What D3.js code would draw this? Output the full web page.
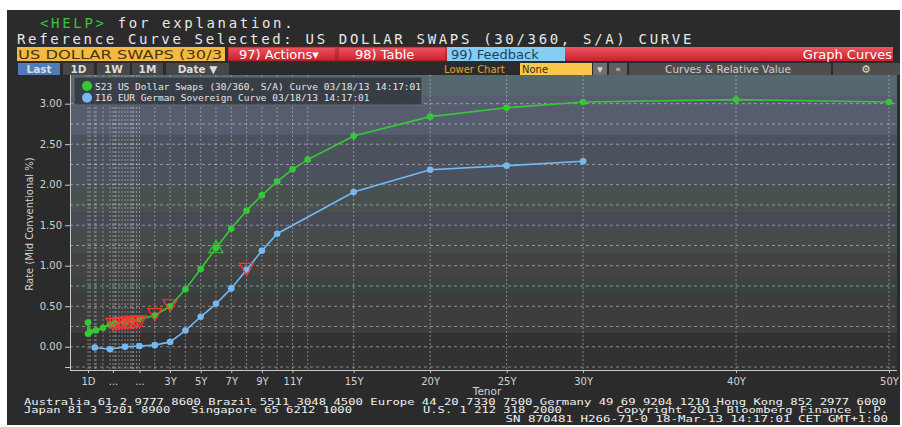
<!DOCTYPE html>
<html>
<head>
<meta charset="utf-8">
<script src="https://cdn.jsdelivr.net/npm/d3@7"></script>
<style>
  body { margin: 0; background: #fff; }
  text { font-family: "DejaVu Sans", sans-serif; }
  .mono { font-family: "DejaVu Sans Mono", monospace; }
  .axis path, .axis line { stroke: #c8c8c8; }
  .axis text { fill: #d2d2d2; font-size: 10px; font-family: "DejaVu Sans", sans-serif; }
</style>
</head>
<body>
<div id="chart"></div>
<script>
var w = 902;
var h = 427;

// tenors in years
var greenTenors = [1/360, 1/360, 7/360, 1/12, 1/6, 1/4, 1/3, 1/2, 3/4, 1, 2, 3, 4, 5, 6, 7, 8, 9, 10, 11, 12, 15, 20, 25, 30, 40, 50];
var greenRates  = [0.30, 0.16, 0.185, 0.20, 0.235, 0.275, 0.29, 0.305, 0.32, 0.34, 0.385, 0.50, 0.71, 0.96, 1.22, 1.46, 1.68, 1.87, 2.04, 2.19, 2.31, 2.60, 2.84, 2.95, 3.02, 3.05, 3.02];

var blueTenors = [0.07, 1/4, 1/2, 1, 2, 3, 4, 5, 6, 7, 8, 9, 10, 15, 20, 25, 30];
var blueRates  = [-0.01, -0.03, 0.00, 0.01, 0.02, 0.06, 0.20, 0.37, 0.53, 0.72, 0.95, 1.185, 1.395, 1.91, 2.185, 2.235, 2.29];

var redTenors = [0.30, 0.35, 0.40, 0.45, 0.50, 0.60, 0.70, 0.80, 0.90, 1.0, 2, 3, 8];
var redRates  = [0.30, 0.30, 0.305, 0.31, 0.31, 0.315, 0.32, 0.32, 0.325, 0.33, 0.42, 0.53, 0.98];

var upTenors = [6];
var upRates  = [1.21];

var xTickTenors = [1/360, 0.30, 1, 3, 5, 7, 9, 11, 15, 20, 25, 30, 40, 50];
var xTickLabels = ["1D", "...", "...", "3Y", "5Y", "7Y", "9Y", "11Y", "15Y", "20Y", "25Y", "30Y", "40Y", "50Y"];
var yTicks = [-0.25, 0, 0.5, 1, 1.5, 2, 2.5, 3];
var yGrid = d3.range(-0.25, 3.01, 0.25);

var legendLabels = ["S23 US Dollar Swaps (30/360, S/A) Curve 03/18/13 14:17:01",
                    "I16 EUR German Sovereign Curve 03/18/13 14:17:01"];

// background bands (rate breaks, top to bottom)
var bandBreaks = [3.354, 3.095, 2.614, 1.996, 1.65, 1.416, 1.157, 0.861, 0.663, 0.169, -0.287];
var bandColors = ["#56686f", "#565d6f", "#4b525e", "#485050", "#474a52", "#444b49", "#434343", "#3a4342", "#3d3d3d", "#323232"];

var footerLine1 = "Australia 61 2 9777 8600 Brazil 5511 3048 4500 Europe 44 20 7330 7500 Germany 49 69 9204 1210 Hong Kong 852 2977 6000";
var footerLine2 = ["Japan 81 3 3201 8900", "Singapore 65 6212 1000", "U.S. 1 212 318 2000", "Copyright 2013 Bloomberg Finance L.P."];
var footerLine3 = "SN 870481 H266-71-0 18-Mar-13 14:17:01 CET  GMT+1:00";

var plotLeft = 70, plotRight = 897, plotTop = 75, plotBottom = 370;

var xScale = d3.scaleLinear()
               .domain([1/360, 7/360, 1/12, 1/6, 1/4, 1/2, 1, 50])
               .range([88, 90, 96, 103, 110, 125, 139.5, 889]);

var yScale = d3.scaleLinear()
               .domain([-0.287, 3.354])
               .range([plotBottom, plotTop]);

var svg = d3.select("#chart")
            .append("svg")
            .attr("width", w)
            .attr("height", h);

svg.append("rect")
   .attr("x", 7).attr("y", 10)
   .attr("width", 893).attr("height", 415)
   .attr("fill", "#2b2b2b");

// header text
var t1 = svg.append("text").attr("class", "mono")
   .attr("x", 40).attr("y", 28)
   .attr("font-size", 14).attr("letter-spacing", 2.67)
   .attr("fill", "#e8e8e8");
t1.append("tspan").attr("fill", "#3fc23f").text("<HELP>");
t1.append("tspan").text(" for explanation.");

svg.append("text").attr("class", "mono")
   .attr("x", 17).attr("y", 43.5)
   .attr("font-size", 14).attr("letter-spacing", 2.67)
   .attr("fill", "#e8e8e8")
   .text("Reference Curve Selected: US DOLLAR SWAPS (30/360, S/A) CURVE");

// toolbar row
svg.append("rect").attr("x", 17).attr("y", 47).attr("width", 208).attr("height", 14).attr("fill", "#f4b942");
svg.append("text").attr("x", 18).attr("y", 59).attr("font-size", 13).attr("fill", "#4a3608")
   .attr("textLength", 204).attr("lengthAdjust", "spacingAndGlyphs")
   .text("US DOLLAR SWAPS (30/3");

var redGrad = svg.append("defs").append("linearGradient")
   .attr("id", "redg").attr("x1", 0).attr("x2", 0).attr("y1", 0).attr("y2", 1);
redGrad.append("stop").attr("offset", "0%").attr("stop-color", "#ee5560");
redGrad.append("stop").attr("offset", "100%").attr("stop-color", "#c8202c");

svg.append("rect").attr("x", 228).attr("y", 47).attr("width", 665).attr("height", 14).attr("fill", "url(#redg)");
svg.append("rect").attr("x", 228).attr("y", 47).attr("width", 108).attr("height", 14).attr("fill", "url(#redg)").attr("stroke", "#8a1a22").attr("stroke-width", 0.8);
svg.append("rect").attr("x", 338).attr("y", 47).attr("width", 108).attr("height", 14).attr("fill", "url(#redg)").attr("stroke", "#8a1a22").attr("stroke-width", 0.8);
svg.append("rect").attr("x", 447).attr("y", 47).attr("width", 118).attr("height", 14).attr("fill", "#86cdf2");

svg.append("text").attr("x", 239).attr("y", 59).attr("font-size", 13).attr("fill", "#fff").text("97) Actions\u25BE");
svg.append("text").attr("x", 355).attr("y", 59).attr("font-size", 13).attr("fill", "#fff").text("98) Table");
svg.append("text").attr("x", 451).attr("y", 59).attr("font-size", 13).attr("fill", "#1d3f66").text("99) Feedback");
svg.append("text").attr("x", 892).attr("y", 59).attr("font-size", 13).attr("fill", "#fff").attr("text-anchor", "end").text("Graph Curves");

// range buttons
var btns = [["Last", 18, 42, "#4d7cb8"], ["1D", 63, 31, "#474747"], ["1W", 97, 33, "#474747"], ["1M", 132, 31, "#474747"], ["Date \u25BC", 166, 63, "#474747"]];
btns.forEach(function(b) {
  svg.append("rect").attr("x", b[1]).attr("y", 63).attr("width", b[2]).attr("height", 12).attr("fill", b[3]);
  svg.append("text").attr("x", b[1] + b[2] / 2).attr("y", 73).attr("text-anchor", "middle")
     .attr("font-size", 10.5).attr("font-weight", "bold").attr("fill", "#dcdcdc").text(b[0]);
});

svg.append("text").attr("x", 444).attr("y", 73).attr("font-size", 10).attr("fill", "#e8a030").text("Lower Chart");
svg.append("rect").attr("x", 520).attr("y", 63).attr("width", 72).attr("height", 12).attr("fill", "#fcc84c");
svg.append("text").attr("x", 522).attr("y", 73).attr("font-size", 10).attr("fill", "#3a2a08").text("None");
svg.append("rect").attr("x", 593).attr("y", 63).attr("width", 14).attr("height", 12).attr("fill", "#707070");
svg.append("text").attr("x", 600).attr("y", 72).attr("font-size", 7).attr("text-anchor", "middle").attr("fill", "#ddd").text("\u25BC");
svg.append("rect").attr("x", 609).attr("y", 63).attr("width", 18).attr("height", 12).attr("fill", "#5e5e5e");
svg.append("text").attr("x", 618).attr("y", 72).attr("font-size", 9).attr("text-anchor", "middle").attr("fill", "#ddd").text("\u00AB");
svg.append("rect").attr("x", 629).attr("y", 63).attr("width", 202).attr("height", 12).attr("fill", "#4e4e4e");
svg.append("text").attr("x", 728).attr("y", 73).attr("font-size", 10.5).attr("text-anchor", "middle").attr("fill", "#cfcfcf").text("Curves & Relative Value");
svg.append("rect").attr("x", 833).attr("y", 63).attr("width", 67).attr("height", 12).attr("fill", "#4e4e4e");
svg.append("text").attr("x", 866).attr("y", 73).attr("font-size", 11).attr("text-anchor", "middle").attr("fill", "#dcdcdc").text("\u2699");

// plot background bands
var plot = svg.append("g");
plot.selectAll("rect.band")
    .data(bandColors)
    .enter()
    .append("rect")
    .attr("class", "band")
    .attr("x", plotLeft)
    .attr("width", plotRight - plotLeft)
    .attr("y", function(d, i) { return yScale(bandBreaks[i]); })
    .attr("height", function(d, i) { return yScale(bandBreaks[i + 1]) - yScale(bandBreaks[i]); })
    .attr("fill", function(d) { return d; });

// grid
var gridTenors = Array.from(new Set(greenTenors.concat(blueTenors, redTenors, xTickTenors)));
plot.selectAll("line.vgrid")
    .data(gridTenors)
    .enter()
    .append("line")
    .attr("class", "vgrid")
    .attr("x1", function(d) { return xScale(d); })
    .attr("x2", function(d) { return xScale(d); })
    .attr("y1", plotTop)
    .attr("y2", plotBottom)
    .attr("stroke", "rgba(225,225,225,0.45)")
    .attr("stroke-dasharray", "2,2");

plot.selectAll("line.hgrid")
    .data(yGrid)
    .enter()
    .append("line")
    .attr("class", "hgrid")
    .attr("x1", plotLeft)
    .attr("x2", plotRight)
    .attr("y1", function(d) { return yScale(d); })
    .attr("y2", function(d) { return yScale(d); })
    .attr("stroke", "rgba(225,225,225,0.5)")
    .attr("stroke-dasharray", "3,3");

// axes
var xAxis = d3.axisBottom(xScale)
              .tickValues(xTickTenors)
              .tickFormat(function(d, i) { return xTickLabels[i]; })
              .tickSize(3)
              .tickSizeOuter(0);

var yAxis = d3.axisLeft(yScale)
              .tickValues(yTicks)
              .tickFormat(function(d) { return d < 0 ? "" : d3.format(".2f")(d); })
              .tickSize(5)
              .tickSizeOuter(0);

svg.append("g")
   .attr("class", "x axis")
   .attr("transform", "translate(0," + plotBottom + ")")
   .call(xAxis)
   .call(function(g) { g.select(".domain").attr("d", "M" + plotLeft + ",0.5H" + plotRight); })
   .selectAll("text").attr("dy", "0.85em");

svg.append("g")
   .attr("class", "y axis")
   .attr("transform", "translate(" + plotLeft + ",0)")
   .call(yAxis)
   .call(function(g) { g.select(".domain").attr("d", "M0.5," + plotTop + "V" + plotBottom); });

svg.append("text")
   .attr("transform", "translate(33,224) rotate(-90)")
   .attr("text-anchor", "middle")
   .attr("font-size", 10)
   .attr("fill", "#d2d2d2")
   .text("Rate (Mid Conventional %)");

svg.append("text")
   .attr("x", 487).attr("y", 395)
   .attr("text-anchor", "middle")
   .attr("font-size", 10.5)
   .attr("fill", "#d2d2d2")
   .text("Tenor");

// series
function series(tenors, rates, color) {
  var pts = tenors.map(function(t, i) { return [t, rates[i]]; });
  var line = d3.line()
               .x(function(d) { return xScale(d[0]); })
               .y(function(d) { return yScale(d[1]); });
  plot.append("path")
      .datum(pts)
      .attr("d", line)
      .attr("fill", "none")
      .attr("stroke", color)
      .attr("stroke-width", 1.6);
  plot.append("g")
      .selectAll("circle")
      .data(pts)
      .enter()
      .append("circle")
      .attr("cx", function(d) { return xScale(d[0]); })
      .attr("cy", function(d) { return yScale(d[1]); })
      .attr("r", 3.3)
      .attr("fill", color);
}
series(blueTenors, blueRates, "#74b8f4");
series(greenTenors, greenRates, "#36c936");

var tri = d3.symbol().type(d3.symbolTriangle).size(85);
plot.append("g")
    .selectAll("path")
    .data(redTenors.map(function(t, i) { return [t, redRates[i]]; }))
    .enter()
    .append("path")
    .attr("d", tri)
    .attr("transform", function(d) { return "translate(" + xScale(d[0]) + "," + yScale(d[1]) + ") rotate(180)"; })
    .attr("fill", "none")
    .attr("stroke", "#ff3434")
    .attr("stroke-width", 1.2);

plot.append("g")
    .selectAll("path")
    .data(upTenors.map(function(t, i) { return [t, upRates[i]]; }))
    .enter()
    .append("path")
    .attr("d", tri)
    .attr("transform", function(d) { return "translate(" + xScale(d[0]) + "," + yScale(d[1]) + ")"; })
    .attr("fill", "none")
    .attr("stroke", "#36c936")
    .attr("stroke-width", 1.2);

// legend
var legend = svg.append("g");
legend.append("rect")
      .attr("x", 74).attr("y", 77)
      .attr("width", 348).attr("height", 28)
      .attr("fill", "rgba(52,56,64,0.88)")
      .attr("stroke", "#666a70");
legend.selectAll("circle")
      .data(["#36c936", "#74b8f4"])
      .enter()
      .append("circle")
      .attr("cx", 87)
      .attr("cy", function(d, i) { return 86 + i * 11.7; })
      .attr("r", 5)
      .attr("fill", function(d) { return d; });
legend.selectAll("text")
      .data(legendLabels)
      .enter()
      .append("text")
      .attr("class", "mono")
      .attr("x", 95)
      .attr("y", function(d, i) { return 89.5 + i * 11.7; })
      .attr("font-size", 9.5)
      .attr("fill", "#e6e6e6")
      .text(function(d) { return d; });

// footer
var footCharW = 7.38;
var footBase = [404.5, 413, 421.5];
function footText(str, x, y, anchor) {
  svg.append("text")
     .attr("class", "mono")
     .attr("x", x).attr("y", y)
     .attr("text-anchor", anchor || "start")
     .attr("font-size", 8.6)
     .attr("fill", "#f0f0f0")
     .attr("textLength", str.length * footCharW - 1.4)
     .attr("lengthAdjust", "spacingAndGlyphs")
     .text(str);
}
footText(footerLine1, 24, footBase[0]);
footText(footerLine2[0], 24, footBase[1]);
footText(footerLine2[1], 191, footBase[1]);
footText(footerLine2[2], 423, footBase[1]);
footText(footerLine2[3], 888, footBase[1], "end");
footText(footerLine3, 888, footBase[2], "end");
</script>
</body>
</html>
